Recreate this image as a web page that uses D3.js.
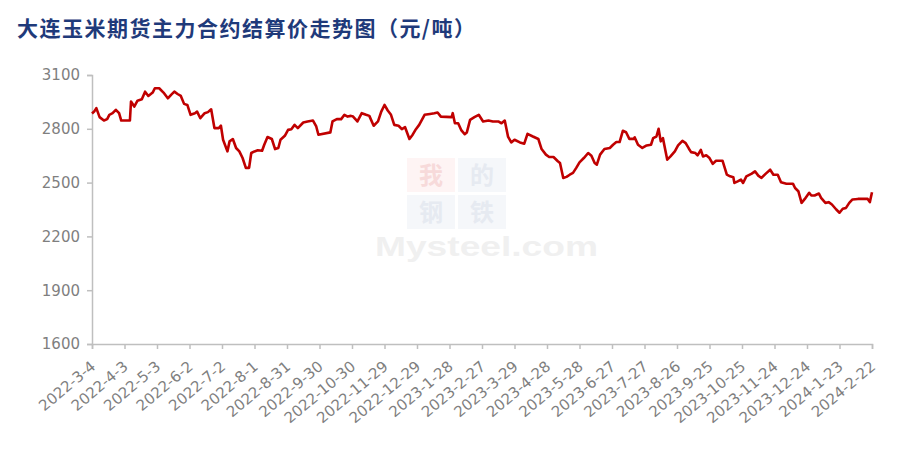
<!DOCTYPE html>
<html>
<head>
<meta charset="utf-8">
<script src="https://cdn.jsdelivr.net/npm/d3@7"></script>
<style>
  html, body { margin: 0; padding: 0; background: #fff; }
  svg { display: block; }
</style>
</head>
<body>
<svg id="chart" width="922" height="450"></svg>
<script>
const title = "大连玉米期货主力合约结算价走势图（元/吨）";

const dates = [
"2022-03-04","2022-03-06","2022-03-08","2022-03-11","2022-03-15","2022-03-18","2022-03-20","2022-03-23","2022-03-26","2022-03-29",
"2022-03-31","2022-04-03","2022-04-08","2022-04-09","2022-04-12","2022-04-15","2022-04-19","2022-04-22","2022-04-25","2022-04-29",
"2022-05-01","2022-05-05","2022-05-09","2022-05-13","2022-05-16","2022-05-19","2022-05-22","2022-05-25","2022-05-28","2022-05-31",
"2022-06-03","2022-06-07","2022-06-09","2022-06-12","2022-06-16","2022-06-19","2022-06-22","2022-06-25","2022-06-29","2022-07-01",
"2022-07-03","2022-07-07","2022-07-09","2022-07-12","2022-07-15","2022-07-18","2022-07-21","2022-07-24","2022-07-27","2022-07-29",
"2022-08-01","2022-08-04","2022-08-08","2022-08-10","2022-08-13","2022-08-17","2022-08-20","2022-08-23","2022-08-25","2022-08-29",
"2022-09-01","2022-09-04","2022-09-07","2022-09-10","2022-09-15","2022-09-19","2022-09-24","2022-09-27","2022-09-29","2022-10-10",
"2022-10-12","2022-10-16","2022-10-20","2022-10-23","2022-10-26","2022-10-29","2022-10-31","2022-11-04","2022-11-08","2022-11-12",
"2022-11-15","2022-11-19","2022-11-23","2022-11-26","2022-11-29","2022-12-02","2022-12-05","2022-12-08","2022-12-12","2022-12-15",
"2022-12-18","2022-12-22","2022-12-25","2022-12-28","2022-12-31","2023-01-05","2023-01-10","2023-01-14","2023-01-17","2023-01-20",
"2023-01-30","2023-01-31","2023-02-02","2023-02-05","2023-02-08","2023-02-11","2023-02-13","2023-02-16","2023-02-20","2023-02-24",
"2023-02-28","2023-03-05","2023-03-09","2023-03-14","2023-03-17","2023-03-20","2023-03-23","2023-03-26","2023-03-29","2023-04-03",
"2023-04-07","2023-04-10","2023-04-15","2023-04-20","2023-04-23","2023-04-27","2023-04-30","2023-05-04","2023-05-08","2023-05-10",
"2023-05-13","2023-05-16","2023-05-19","2023-05-22","2023-05-25","2023-05-28","2023-06-01","2023-06-05","2023-06-08","2023-06-11",
"2023-06-13","2023-06-16","2023-06-20","2023-06-25","2023-06-28","2023-07-01","2023-07-04","2023-07-07","2023-07-10","2023-07-13",
"2023-07-17","2023-07-18","2023-07-21","2023-07-25","2023-07-29","2023-08-02","2023-08-04","2023-08-07","2023-08-09","2023-08-11",
"2023-08-13","2023-08-17","2023-08-20","2023-08-24","2023-08-27","2023-08-31","2023-09-03","2023-09-06","2023-09-08","2023-09-12",
"2023-09-14","2023-09-17","2023-09-19","2023-09-22","2023-09-25","2023-09-28","2023-10-01","2023-10-07","2023-10-11","2023-10-14",
"2023-10-17","2023-10-18","2023-10-21","2023-10-24","2023-10-26","2023-10-29","2023-11-03","2023-11-06","2023-11-09","2023-11-12",
"2023-11-16","2023-11-20","2023-11-23","2023-11-27","2023-11-30","2023-12-05","2023-12-11","2023-12-13","2023-12-16","2023-12-19",
"2023-12-22","2023-12-26","2023-12-28","2023-12-31","2024-01-04","2024-01-06","2024-01-10","2024-01-13","2024-01-16","2024-01-20",
"2024-01-23","2024-01-26","2024-01-29","2024-02-01","2024-02-04","2024-02-09","2024-02-18","2024-02-20","2024-02-22"
];

const prices = [
2885,2896,2915,2865,2846,2854,2878,2887,2906,2887,
2846,2846,2846,2952,2924,2957,2965,3007,2983,3002,
3026,3026,3002,2970,2989,3007,2994,2983,2939,2933,
2878,2887,2896,2859,2887,2893,2909,2804,2804,2817,
2739,2674,2730,2743,2693,2674,2637,2582,2582,2665,
2674,2680,2678,2711,2754,2743,2687,2693,2739,2761,
2794,2798,2822,2804,2835,2841,2846,2813,2767,2780,
2841,2854,2854,2878,2868,2872,2868,2841,2887,2878,
2872,2817,2841,2896,2933,2902,2878,2822,2817,2798,
2809,2743,2767,2798,2822,2878,2883,2887,2891,2868,
2865,2887,2831,2831,2791,2770,2780,2850,2865,2878,
2841,2846,2841,2841,2831,2846,2757,2724,2739,2724,
2717,2772,2757,2743,2687,2656,2643,2643,2619,2609,
2526,2532,2544,2554,2582,2613,2637,2665,2650,2609,
2600,2656,2687,2693,2711,2726,2726,2789,2781,2744,
2744,2752,2711,2693,2707,2711,2748,2757,2800,2730,
2748,2628,2646,2674,2707,2733,2720,2689,2670,2665,
2652,2683,2646,2652,2637,2604,2622,2622,2544,2535,
2530,2498,2507,2517,2498,2535,2550,2563,2539,2526,
2550,2572,2544,2544,2502,2494,2494,2470,2452,2387,
2409,2443,2428,2428,2439,2415,2387,2391,2378,2350,
2332,2354,2359,2387,2406,2409,2409,2391,2446
];

const yTicks = [1600, 1900, 2200, 2500, 2800, 3100];

const xTickLabels = [
"2022-3-4","2022-4-3","2022-5-3","2022-6-2","2022-7-2","2022-8-1","2022-8-31","2022-9-30",
"2022-10-30","2022-11-29","2022-12-29","2023-1-28","2023-2-27","2023-3-29","2023-4-28",
"2023-5-28","2023-6-27","2023-7-27","2023-8-26","2023-9-25","2023-10-25","2023-11-24",
"2023-12-24","2024-1-23","2024-2-22"
];

(function () {
const parseDate = d3.timeParse("%Y-%m-%d");
const data = dates.map((d, i) => ({ date: parseDate(d), v: prices[i] }));
const tickDates = xTickLabels.map(s => parseDate(s));

const svg = d3.select("#chart");

// Title
svg.append("text")
  .attr("x", 17)
  .attr("y", 36)
  .attr("textLength", 458)
  .attr("lengthAdjust", "spacing")
  .attr("font-family", "'Noto Sans CJK SC', sans-serif")
  .attr("font-weight", "bold")
  .attr("font-size", 21)
  .attr("fill", "#1F3A7A")
  .text(title);

const mLeft = 92, mRight = 872, mTop = 75, mBottom = 344;

const x = d3.scaleTime().domain([tickDates[0], tickDates[tickDates.length - 1]]).range([mLeft, mRight]);
const y = d3.scaleLinear().domain([1600, 3100]).range([mBottom, mTop]);

// Watermark (faint)
const wm = svg.append("g").attr("class", "watermark");
const wmCells = [
  { ch: "我", cx: 431, cy: 175, bg: "#FEF4F4", fg: "#F7DADA" },
  { ch: "的", cx: 482, cy: 175, bg: "#F5F7FA", fg: "#E6EAF1" },
  { ch: "钢", cx: 431, cy: 212, bg: "#F5F7FA", fg: "#E6EAF1" },
  { ch: "铁", cx: 482, cy: 212, bg: "#F5F7FA", fg: "#E6EAF1" }
];
wmCells.forEach(c => {
  wm.append("rect").attr("x", c.cx - 24).attr("y", c.cy - 17).attr("width", 48).attr("height", 34).attr("fill", c.bg);
  wm.append("text").attr("x", c.cx).attr("y", c.cy + 9).attr("text-anchor", "middle")
    .attr("font-family", "'Noto Sans CJK SC', sans-serif").attr("font-weight", "bold")
    .attr("font-size", 24).attr("fill", c.fg).text(c.ch);
});
wm.append("text").attr("x", 375).attr("y", 256)
  .attr("textLength", 223).attr("lengthAdjust", "spacingAndGlyphs")
  .attr("font-family", "Arial, 'Liberation Sans', sans-serif").attr("font-weight", "bold")
  .attr("font-size", 28).attr("fill", "#F0F0F0").text("Mysteel.com");

// Y axis
const yAxis = svg.append("g")
  .attr("transform", `translate(${mLeft},0)`)
  .call(d3.axisLeft(y).tickValues(yTicks).tickSize(5).tickPadding(7).tickFormat(d3.format("d")));
yAxis.select(".domain").attr("stroke", "#BFBFBF").attr("stroke-width", 1.5);
yAxis.selectAll(".tick line").attr("stroke", "#BFBFBF").attr("stroke-width", 1.5);
yAxis.selectAll(".tick text")
  .attr("font-family", "'DejaVu Sans', sans-serif")
  .attr("font-size", 15)
  .attr("fill", "#7F7F7F");

// X axis
const xAxis = svg.append("g")
  .attr("transform", `translate(0,${mBottom})`)
  .call(d3.axisBottom(x).tickValues(tickDates).tickSize(5).tickFormat((d, i) => xTickLabels[i]));
xAxis.select(".domain").attr("stroke", "#BFBFBF").attr("stroke-width", 1.5);
xAxis.selectAll(".tick line").attr("stroke", "#BFBFBF").attr("stroke-width", 1.5);
xAxis.selectAll(".tick text")
  .attr("y", 0).attr("dy", 0)
  .attr("transform", "translate(4,24) rotate(-40)")
  .attr("text-anchor", "end")
  .attr("font-family", "'DejaVu Sans', sans-serif")
  .attr("font-size", 15)
  .attr("fill", "#7F7F7F");

// Line
const line = d3.line().x(d => x(d.date)).y(d => y(d.v));
svg.append("path")
  .datum(data)
  .attr("fill", "none")
  .attr("stroke", "#C00000")
  .attr("stroke-width", 2.6)
  .attr("stroke-linejoin", "round")
  .attr("d", line);
})();
</script>
</body>
</html>
